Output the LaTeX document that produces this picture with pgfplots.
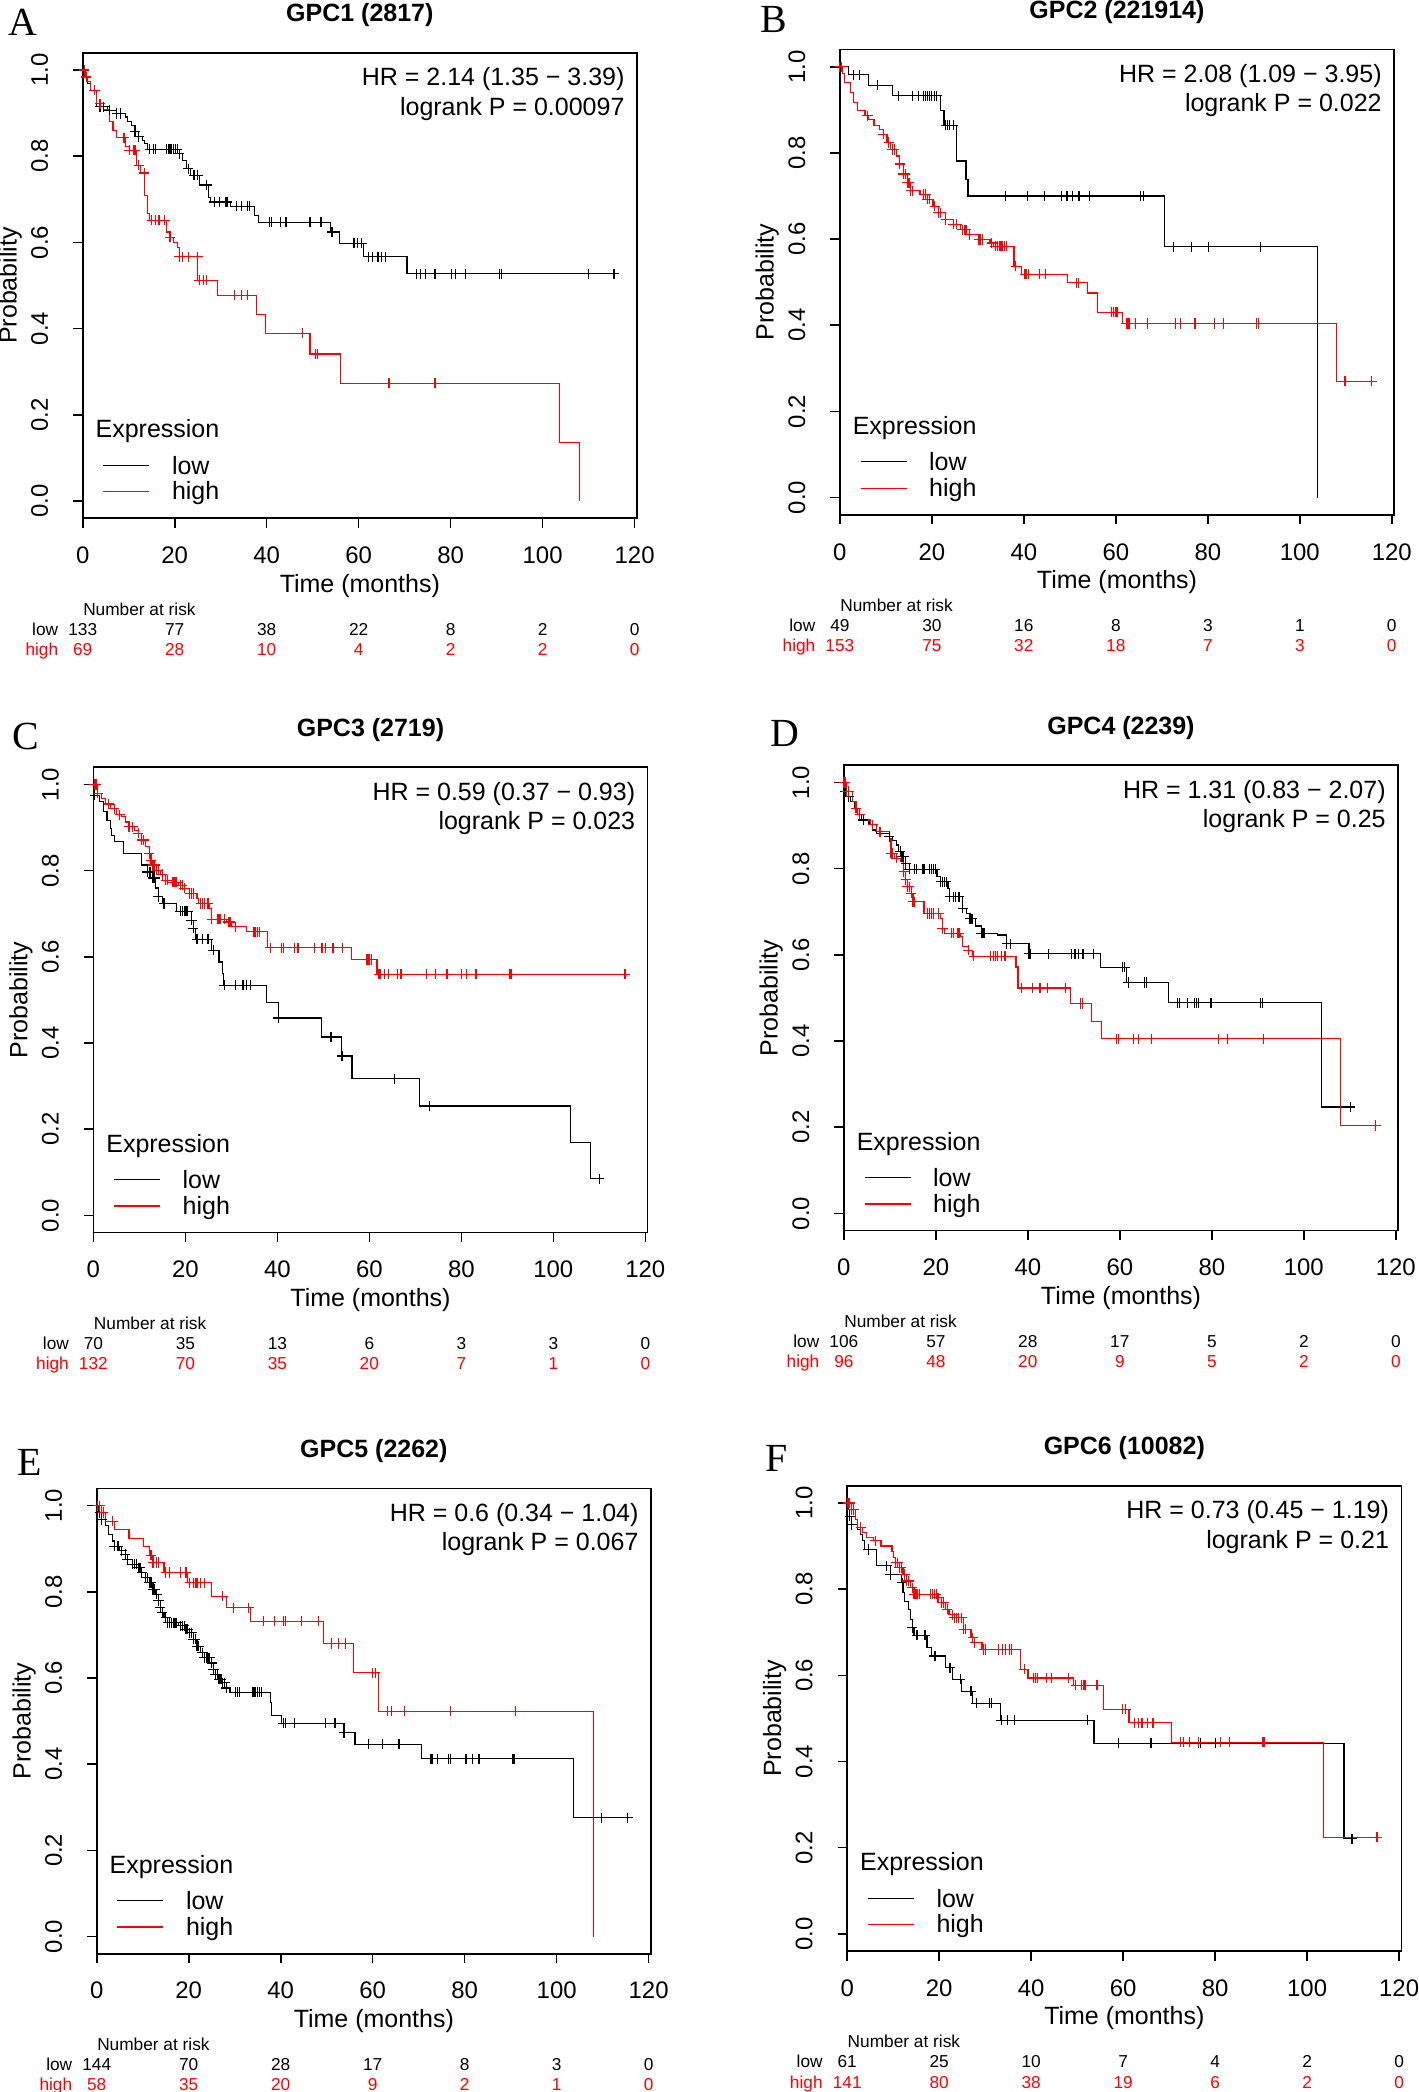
\documentclass[border=0pt]{standalone}
\usepackage{fontspec}
\setmainfont{Liberation Sans}
\newfontfamily\letterfont{Liberation Serif}
\usepackage{pgfplots}
\pgfplotsset{compat=1.18}
\newcommand{\fs}[1]{\fontsize{#1}{#1}\selectfont}
\pgfplotsset{
 km/.style={
  scale only axis, width=207.7bp, height=174.4bp, anchor=south west,
  xmin=0, xmax=120.5, ymin=-0.04, ymax=1.04, clip=false,
  xtick={0,20,40,60,80,100,120}, xticklabels={0,20,40,60,80,100,120},
  ytick={0,0.2,0.4,0.6,0.8,1}, yticklabels={0.0,0.2,0.4,0.6,0.8,1.0},
  tick pos=left, tick align=outside, major tick length=3.6bp,
  axis line style={line width=0.6bp}, tick style={line width=0.6bp, black},
  tick label style={font=\fs{9}},
  xticklabel style={anchor=center, yshift=-10.25bp},
  yticklabel style={anchor=center, xshift=-12.5bp, rotate=90},
  xlabel={Time (months)}, ylabel={Probability},
  label style={font=\fs{9.4}},
  xlabel style={at={(axis description cs:0.5,-0.1448)}, anchor=center},
  ylabel style={at={(axis description cs:-0.131,0.5)}, anchor=center},
 },
}
\tikzset{
 lowrow/.style={font=\fs{6.5}, inner sep=0pt, anchor=base, yshift=-43.8bp, text=black},
 highrow/.style={font=\fs{6.5}, inner sep=0pt, anchor=base, yshift=-51.3bp, text=red},
}
\newcommand{\kmcurve}[3]{%
 \addplot[#1, const plot, no marks, line width=0.45bp] coordinates {#2};
 \addplot[#1, only marks, mark=+, mark size=1.9bp, mark options={line width=0.45bp}] coordinates {#3};
}
\newcommand{\riskrow}[9]{%
 \node[#1, anchor=base east, xshift=-9bp] at (axis cs:0,-0.04) {#2};
 \node[#1] at (axis cs:0,-0.04) {#3};
 \node[#1] at (axis cs:20,-0.04) {#4};
 \node[#1] at (axis cs:40,-0.04) {#5};
 \node[#1] at (axis cs:60,-0.04) {#6};
 \node[#1] at (axis cs:80,-0.04) {#7};
 \node[#1] at (axis cs:100,-0.04) {#8};
 \node[#1] at (axis cs:120,-0.04) {#9};
}
\newcommand{\kmdeco}[3]{% title, HR, P
 \node[font=\bfseries\fs{9.4}, anchor=base, inner sep=0pt, yshift=11.6bp] at (rel axis cs:0.5,1) {#1};
 \node[font=\fs{9.4}, anchor=base east, inner sep=0pt] at (axis cs:117.9,0.963) {#2};
 \node[font=\fs{9.4}, anchor=base east, inner sep=0pt] at (axis cs:117.9,0.895) {#3};
 \node[font=\fs{9.4}, anchor=base west, inner sep=0pt] at (axis cs:2.7,0.147) {Expression};
 \draw[black, line width=0.45bp] (axis cs:4.5,0.083) -- (axis cs:14.5,0.083);
 \draw[red, line width=0.45bp] (axis cs:4.5,0.022) -- (axis cs:14.5,0.022);
 \node[font=\fs{9.4}, anchor=base west, inner sep=0pt] at (axis cs:19.3,0.062) {low};
 \node[font=\fs{9.4}, anchor=base west, inner sep=0pt] at (axis cs:19.3,0.003) {high};
 \node[font=\fs{6.5}, inner sep=0pt, anchor=base west, yshift=-36.3bp] at (axis cs:0,-0.04) {Number at risk};
}
\begin{document}
\begin{tikzpicture}
\useasboundingbox (0,0) rectangle (531.5bp,784bp);
\node[font=\letterfont\fs{15}] at (8.5bp,775.5bp) {A};
\node[font=\letterfont\fs{15}] at (290bp,776.5bp) {B};
\node[font=\letterfont\fs{15}] at (9.5bp,508bp) {C};
\node[font=\letterfont\fs{15}] at (294bp,509bp) {D};
\node[font=\letterfont\fs{15}] at (11bp,236bp) {E};
\node[font=\letterfont\fs{15}] at (291bp,237.5bp) {F};

% ---------------- A
\begin{axis}[km, at={(31bp,589.8bp)}]
\kmcurve{black}{(0,1) (0.5,0.985) (0.96,0.969) (1.76,0.953) (2.96,0.915) (5.36,0.907) (7.37,0.899) (9.37,0.891) (9.77,0.88) (10.57,0.872) (11.37,0.857) (12.17,0.845) (12.97,0.837) (13.37,0.829) (14.17,0.816) (20.98,0.806) (21.78,0.791) (22.58,0.771) (23.38,0.756) (25.38,0.733) (27.38,0.705) (27.78,0.694) (32.19,0.684) (37.39,0.663) (38.19,0.647) (53.8,0.624) (55.8,0.598) (61.0,0.567) (70.5,0.527) (116.4,0.527)}
{(0.3,1) (3.76,0.915) (4.56,0.915) (5.76,0.907) (7.37,0.899) (8.17,0.899) (11.37,0.857) (12.17,0.845) (14.57,0.816) (15.37,0.816) (15.77,0.816) (18.17,0.816) (18.58,0.816) (18.98,0.816) (19.38,0.816) (19.78,0.816) (20.18,0.816) (20.58,0.816) (20.98,0.806) (22.98,0.771) (24.18,0.756) (24.98,0.756) (26.98,0.733) (28.58,0.694) (29.78,0.694) (30.98,0.694) (31.39,0.694) (33.39,0.684) (34.59,0.684) (35.79,0.684) (36.19,0.684) (40.59,0.647) (40.99,0.647) (43.0,0.647) (44.2,0.647) (49.4,0.647) (51.8,0.647) (54.2,0.624) (59.0,0.598) (59.8,0.598) (60.6,0.598) (62.2,0.567) (63.0,0.567) (64.2,0.567) (65.0,0.567) (65.8,0.567) (72.6,0.527) (73.4,0.527) (74.6,0.527) (76.6,0.527) (80.2,0.527) (81.0,0.527) (83.3,0.527) (90.6,0.527) (91.0,0.527) (109.9,0.527) (115.5,0.527)}
\kmcurve{red}{(0,1) (0.56,0.984) (0.96,0.973) (1.76,0.953) (2.96,0.922) (4.56,0.908) (5.76,0.88) (6.57,0.86) (7.37,0.843) (9.37,0.822) (10.17,0.814) (11.77,0.779) (12.57,0.761) (13.37,0.709) (14.17,0.667) (14.57,0.651) (18.17,0.624) (18.98,0.612) (19.78,0.60) (20.58,0.589) (20.98,0.567) (24.98,0.512) (29.38,0.477) (37.79,0.433) (39.79,0.389) (49.40,0.341) (56.04,0.273) (103.6,0.136) (108.0,0.0)}
{(0.32,1.0) (0.8,0.984) (2.56,0.953) (3.76,0.922) (8.97,0.843) (10.17,0.814) (10.97,0.814) (11.37,0.814) (12.17,0.779) (13.37,0.761) (14.97,0.651) (15.77,0.651) (16.57,0.651) (17.77,0.651) (18.98,0.612) (20.98,0.567) (21.78,0.567) (22.98,0.567) (24.98,0.567) (25.38,0.512) (26.18,0.512) (26.98,0.512) (32.99,0.477) (34.59,0.477) (35.79,0.477) (47.8,0.389) (50.6,0.341) (51.0,0.341) (66.6,0.273) (76.6,0.273)}
\kmdeco{GPC1 (2817)}{HR = 2.14 (1.35 − 3.39)}{logrank P = 0.00097}
\riskrow{lowrow}{low}{133}{77}{38}{22}{8}{2}{0}
\riskrow{highrow}{high}{69}{28}{10}{4}{2}{2}{0}
\end{axis}

% ---------------- B
\begin{axis}[km, at={(314.75bp,591.05bp)}]
\kmcurve{black}{(0,1) (1.84,0.981) (6.24,0.957) (11.44,0.933) (21.84,0.899) (22.64,0.864) (25.44,0.781) (27.44,0.739) (27.84,0.70) (70.64,0.582) (103.84,0.0)}
{(0.3,1) (3.04,0.981) (4.24,0.981) (8.24,0.957) (12.8,0.933) (15.84,0.933) (17.04,0.933) (18.24,0.933) (18.64,0.933) (19.04,0.933) (19.44,0.933) (19.84,0.933) (20.64,0.933) (21.04,0.933) (23.04,0.864) (23.44,0.864) (23.84,0.864) (24.64,0.864) (36.0,0.70) (40.8,0.70) (44.5,0.70) (48.2,0.70) (49.4,0.70) (50.6,0.70) (52.0,0.70) (54.2,0.70) (65.4,0.70) (66.1,0.70) (72.6,0.582) (76.5,0.582) (80.2,0.582) (91.4,0.582)}
\kmcurve{red}{(0,1) (0.5,0.985) (1.04,0.963) (2.24,0.940) (3.04,0.917) (3.84,0.898) (5.44,0.886) (6.24,0.878) (7.44,0.863) (8.64,0.855) (9.44,0.843) (10.24,0.824) (11.04,0.808) (12.24,0.793) (13.04,0.774) (13.84,0.751) (14.64,0.731) (15.44,0.712) (17.44,0.704) (19.04,0.692) (20.24,0.676) (21.44,0.661) (23.04,0.645) (24.64,0.634) (26.24,0.622) (28.24,0.610) (30.24,0.599) (32.64,0.591) (33.44,0.583) (37.84,0.537) (39.44,0.518) (49.44,0.499) (53.84,0.475) (56.08,0.430) (61.44,0.404) (108.0,0.270) (116.2,0.270)}
{(0,1) (0.4,1) (6.0,0.886) (9.44,0.843) (10.64,0.824) (11.44,0.808) (11.84,0.808) (13.04,0.774) (13.84,0.751) (14.24,0.751) (14.64,0.731) (15.04,0.731) (15.44,0.712) (15.84,0.712) (18.24,0.704) (18.64,0.704) (19.04,0.692) (19.44,0.692) (20.64,0.676) (21.44,0.661) (21.84,0.661) (23.04,0.645) (24.64,0.634) (25.44,0.634) (26.64,0.622) (27.04,0.622) (27.44,0.622) (28.24,0.610) (30.24,0.599) (30.64,0.599) (31.04,0.599) (33.04,0.591) (33.84,0.583) (34.24,0.583) (34.64,0.583) (35.04,0.583) (35.44,0.583) (35.84,0.583) (36.24,0.583) (38.24,0.537) (40.24,0.518) (40.64,0.518) (41.04,0.518) (43.44,0.518) (44.64,0.518) (51.44,0.499) (51.84,0.499) (59.04,0.430) (59.44,0.430) (59.84,0.430) (60.24,0.430) (62.24,0.404) (62.64,0.404) (63.04,0.404) (64.24,0.404) (66.88,0.404) (73.04,0.404) (74.08,0.404) (77.04,0.404) (77.28,0.404) (81.44,0.404) (83.44,0.404) (90.64,0.404) (91.04,0.404) (109.84,0.270) (115.6,0.270)}
\kmdeco{GPC2 (221914)}{HR = 2.08 (1.09 − 3.95)}{logrank P = 0.022}
\riskrow{lowrow}{low}{49}{30}{16}{8}{3}{1}{0}
\riskrow{highrow}{high}{153}{75}{32}{18}{7}{3}{0}
\end{axis}

% ---------------- C
\begin{axis}[km, at={(35bp,322.05bp)}]
\kmcurve{black}{(0,1) (0.32,0.975) (1.36,0.960) (2.16,0.937) (2.96,0.917) (3.75,0.898) (3.99,0.882) (4.55,0.868) (6.55,0.840) (10.54,0.813) (11.74,0.797) (12.94,0.783) (13.58,0.760) (14.14,0.740) (14.94,0.724) (18.13,0.706) (21.33,0.685) (21.73,0.666) (22.12,0.641) (25.72,0.615) (27.32,0.588) (28.12,0.561) (28.27,0.534) (37.70,0.495) (40.26,0.458) (49.52,0.414) (53.91,0.370) (56.23,0.317) (70.85,0.254) (103.8,0.169) (108.1,0.085) (110.8,0.085)}
{(0.32,0.975) (11.74,0.797) (12.3,0.797) (12.94,0.783) (13.34,0.783) (14.14,0.740) (15.34,0.724) (18.93,0.706) (19.33,0.706) (19.73,0.706) (20.13,0.706) (20.53,0.706) (21.33,0.685) (21.73,0.666) (22.52,0.641) (23.72,0.641) (24.92,0.641) (26.12,0.615) (28.51,0.534) (30.91,0.534) (32.51,0.534) (33.31,0.534) (34.11,0.534) (40.26,0.458) (51.68,0.414) (54.07,0.370) (65.50,0.317) (73.0,0.254) (110.0,0.085)}
\kmcurve{red}{(0,1) (0.96,0.98) (1.76,0.967) (2.56,0.955) (3.75,0.944) (4.95,0.930) (6.15,0.925) (6.95,0.913) (7.75,0.902) (8.95,0.894) (9.74,0.887) (10.54,0.871) (11.34,0.856) (12.14,0.840) (12.54,0.824) (12.94,0.813) (13.74,0.801) (14.54,0.791) (15.73,0.778) (17.33,0.773) (18.53,0.766) (19.73,0.759) (20.93,0.747) (22.52,0.735) (22.92,0.724) (25.32,0.712) (25.72,0.687) (28.91,0.681) (30.11,0.670) (33.31,0.658) (37.86,0.621) (56.07,0.594) (61.66,0.560) (116.4,0.560)}
{(0.16,1) (0.56,1) (0.96,0.98) (3.35,0.955) (4.55,0.944) (5.75,0.930) (7.75,0.902) (8.55,0.902) (9.74,0.887) (10.54,0.871) (10.94,0.871) (12.14,0.840) (12.54,0.824) (12.94,0.813) (13.34,0.813) (13.74,0.801) (14.14,0.801) (14.94,0.791) (15.73,0.778) (16.13,0.778) (17.33,0.773) (17.73,0.773) (18.13,0.773) (18.93,0.766) (19.33,0.766) (19.73,0.759) (20.93,0.747) (21.33,0.747) (21.73,0.747) (23.32,0.724) (23.72,0.724) (24.12,0.724) (24.92,0.724) (25.72,0.687) (26.92,0.687) (27.32,0.687) (27.72,0.687) (28.51,0.687) (29.31,0.681) (29.71,0.681) (30.91,0.670) (34.9,0.658) (35.3,0.658) (35.7,0.658) (36.1,0.658) (38.5,0.621) (40.9,0.621) (41.3,0.621) (43.7,0.621) (44.5,0.621) (48.1,0.621) (49.7,0.621) (50.5,0.621) (52.1,0.621) (54.1,0.621) (59.3,0.594) (59.7,0.594) (60.1,0.594) (60.5,0.594) (62.1,0.560) (62.5,0.560) (63.3,0.560) (64.1,0.560) (66.1,0.560) (66.9,0.560) (72.4,0.560) (74.4,0.560) (76.7,0.560) (77.0,0.560) (80.0,0.560) (81.2,0.560) (83.2,0.560) (90.4,0.560) (90.8,0.560) (115.6,0.560)}
\kmdeco{GPC3 (2719)}{HR = 0.59 (0.37 − 0.93)}{logrank P = 0.023}
\riskrow{lowrow}{low}{70}{35}{13}{6}{3}{3}{0}
\riskrow{highrow}{high}{132}{70}{35}{20}{7}{1}{0}
\end{axis}

% ---------------- D
\begin{axis}[km, at={(316.25bp,322.8bp)}]
\kmcurve{black}{(0,1) (0.24,0.98) (0.64,0.967) (1.44,0.956) (2.24,0.940) (3.04,0.925) (3.84,0.913) (5.44,0.902) (6.24,0.890) (7.04,0.882) (9.84,0.874) (10.64,0.866) (11.44,0.855) (11.84,0.840) (12.64,0.828) (13.44,0.812) (14.24,0.799) (20.24,0.781) (21.04,0.770) (22.64,0.754) (23.04,0.735) (25.84,0.708) (26.64,0.696) (27.44,0.684) (28.64,0.667) (29.84,0.650) (33.44,0.646) (35.44,0.626) (40.24,0.603) (55.84,0.571) (61.44,0.536) (70.64,0.489) (103.84,0.247) (110.64,0.247)}
{(0.24,0.98) (1.04,0.967) (3.44,0.925) (4.24,0.913) (9.84,0.874) (12.24,0.840) (12.64,0.828) (13.04,0.828) (13.44,0.812) (14.24,0.799) (15.44,0.799) (15.84,0.799) (17.04,0.799) (17.44,0.799) (18.64,0.799) (19.04,0.799) (19.44,0.799) (19.84,0.799) (21.04,0.770) (21.44,0.770) (21.84,0.770) (22.24,0.770) (23.04,0.735) (23.84,0.735) (24.24,0.735) (25.04,0.735) (25.84,0.708) (27.44,0.684) (27.84,0.684) (29.84,0.650) (30.24,0.650) (30.64,0.650) (35.44,0.626) (36.24,0.626) (40.24,0.603) (40.64,0.603) (44.48,0.603) (49.44,0.603) (50.24,0.603) (51.04,0.603) (52.0,0.603) (54.24,0.603) (60.64,0.571) (61.04,0.571) (61.84,0.536) (65.44,0.536) (65.84,0.536) (72.48,0.489) (73.04,0.489) (74.64,0.489) (76.24,0.489) (76.64,0.489) (77.04,0.489) (79.84,0.489) (90.64,0.489) (91.04,0.489) (110.08,0.247)}
\kmcurve{red}{(0,1) (0.64,0.979) (1.84,0.956) (2.64,0.940) (3.04,0.926) (4.24,0.913) (5.84,0.902) (7.04,0.886) (9.84,0.870) (10.24,0.836) (11.04,0.824) (12.24,0.816) (13.04,0.793) (13.44,0.774) (13.84,0.758) (14.64,0.743) (15.04,0.723) (17.44,0.696) (21.04,0.684) (21.44,0.661) (21.84,0.650) (25.44,0.642) (25.84,0.619) (27.04,0.611) (28.0,0.597) (37.44,0.572) (37.84,0.523) (49.28,0.487) (53.84,0.446) (56.08,0.405) (108.0,0.204) (115.84,0.204)}
{(0,1) (0.24,1) (0.64,0.979) (1.04,0.979) (2.64,0.940) (3.44,0.926) (6.24,0.902) (7.84,0.886) (10.24,0.836) (10.64,0.836) (11.44,0.824) (13.04,0.793) (13.44,0.774) (13.84,0.758) (14.24,0.758) (14.64,0.743) (15.04,0.723) (15.44,0.723) (18.24,0.696) (18.64,0.696) (19.04,0.696) (19.44,0.696) (20.64,0.696) (21.44,0.661) (23.44,0.650) (23.84,0.650) (24.64,0.650) (25.04,0.650) (27.04,0.611) (28.24,0.597) (31.84,0.597) (32.48,0.597) (33.04,0.597) (33.44,0.597) (34.24,0.597) (35.04,0.597) (38.64,0.523) (41.04,0.523) (42.64,0.523) (44.24,0.523) (48.24,0.523) (51.44,0.487) (51.84,0.487) (59.2,0.405) (59.68,0.405) (63.04,0.405) (64.0,0.405) (66.88,0.405) (81.44,0.405) (83.44,0.405) (91.2,0.405) (115.6,0.204)}
\kmdeco{GPC4 (2239)}{HR = 1.31 (0.83 − 2.07)}{logrank P = 0.25}
\riskrow{lowrow}{low}{106}{57}{28}{17}{5}{2}{0}
\riskrow{highrow}{high}{96}{48}{20}{9}{5}{2}{0}
\end{axis}

% ---------------- E
\begin{axis}[km, at={(36.25bp,51.8bp)}]
\kmcurve{black}{(0,1) (0.40,0.984) (1.04,0.968) (1.84,0.953) (2.64,0.933) (3.43,0.918) (3.83,0.906) (5.03,0.895) (6.23,0.887) (6.63,0.875) (7.83,0.864) (9.03,0.856) (9.82,0.844) (10.62,0.833) (11.42,0.821) (12.22,0.806) (12.86,0.794) (13.42,0.779) (13.82,0.763) (14.22,0.752) (14.62,0.740) (15.42,0.728) (17.81,0.721) (19.41,0.713) (20.21,0.705) (21.01,0.690) (21.81,0.674) (22.60,0.659) (23.40,0.647) (25.0,0.635) (25.40,0.620) (25.80,0.608) (26.60,0.597) (27.40,0.589) (28.19,0.577) (28.99,0.567) (37.78,0.543) (38.02,0.513) (40.18,0.495) (53.75,0.473) (56.15,0.446) (70.53,0.413) (103.67,0.276) (116.45,0.276)}
{(0.24,1) (0.64,0.984) (1.04,0.968) (3.83,0.906) (4.63,0.906) (5.43,0.895) (6.23,0.887) (6.63,0.875) (7.83,0.864) (8.23,0.864) (8.63,0.864) (9.03,0.856) (9.42,0.856) (9.82,0.844) (10.62,0.833) (11.02,0.833) (11.42,0.821) (11.82,0.821) (12.22,0.806) (12.62,0.806) (13.02,0.794) (13.42,0.779) (13.82,0.763) (14.22,0.752) (15.02,0.740) (15.42,0.728) (15.81,0.728) (16.21,0.728) (16.61,0.728) (17.01,0.728) (17.41,0.728) (18.21,0.721) (18.61,0.721) (19.01,0.721) (19.41,0.713) (19.81,0.713) (20.21,0.705) (20.61,0.705) (21.01,0.690) (21.41,0.690) (21.81,0.674) (22.2,0.674) (23.0,0.659) (23.4,0.647) (23.8,0.647) (24.2,0.647) (24.6,0.647) (25.0,0.635) (25.4,0.620) (25.8,0.608) (26.2,0.608) (26.6,0.597) (27.0,0.597) (27.4,0.589) (27.8,0.589) (28.19,0.577) (30.19,0.567) (30.59,0.567) (30.99,0.567) (33.79,0.567) (34.19,0.567) (34.58,0.567) (34.98,0.567) (35.38,0.567) (35.78,0.567) (40.58,0.495) (40.97,0.495) (42.97,0.495) (49.76,0.495) (51.76,0.495) (52.0,0.495) (53.75,0.473) (59.1,0.446) (62.1,0.446) (65.6,0.446) (65.9,0.446) (72.5,0.413) (72.9,0.413) (74.1,0.413) (76.5,0.413) (76.9,0.413) (80.3,0.413) (81.7,0.413) (83.1,0.413) (90.5,0.413) (90.9,0.413) (109.7,0.276) (115.4,0.276)}
\kmcurve{red}{(0,1) (1.04,0.984) (1.84,0.964) (3.83,0.945) (7.03,0.923) (10.22,0.905) (11.42,0.885) (12.22,0.868) (14.62,0.845) (19.81,0.821) (25.0,0.790) (28.19,0.763) (33.39,0.732) (49.36,0.680) (55.75,0.612) (61.34,0.523) (108.07,0.0)}
{(0.24,1) (0.64,1) (1.44,0.984) (3.43,0.964) (11.82,0.885) (12.22,0.868) (13.02,0.868) (13.42,0.868) (15.02,0.845) (15.81,0.845) (18.21,0.845) (19.41,0.845) (20.21,0.821) (21.01,0.821) (21.41,0.821) (21.81,0.821) (22.6,0.821) (23.4,0.821) (27.4,0.790) (29.79,0.763) (32.99,0.763) (36.18,0.732) (38.58,0.732) (40.58,0.732) (40.97,0.732) (44.57,0.732) (48.16,0.732) (50.96,0.680) (52.56,0.680) (54.15,0.680) (59.98,0.612) (60.54,0.612) (63.18,0.523) (64.14,0.523) (66.93,0.523) (76.92,0.523) (91.13,0.523)}
\kmdeco{GPC5 (2262)}{HR = 0.6 (0.34 − 1.04)}{logrank P = 0.067}
\riskrow{lowrow}{low}{144}{70}{28}{17}{8}{3}{0}
\riskrow{highrow}{high}{58}{35}{20}{9}{2}{1}{0}
\end{axis}

% ---------------- F
\begin{axis}[km, at={(317.5bp,52.8bp)}]
\kmcurve{black}{(0,1) (0.16,0.985) (0.56,0.969) (0.96,0.950) (2.16,0.939) (2.96,0.927) (3.35,0.912) (3.75,0.892) (6.39,0.854) (9.35,0.834) (11.74,0.815) (12.14,0.792) (12.54,0.772) (13.34,0.753) (13.74,0.730) (14.14,0.711) (14.54,0.693) (17.33,0.664) (18.37,0.645) (21.33,0.618) (22.92,0.591) (24.92,0.563) (27.32,0.535) (33.31,0.496) (53.67,0.442) (107.99,0.221) (110.78,0.221)}
{(0.56,0.969) (0.96,0.950) (4.55,0.892) (8.55,0.854) (9.35,0.834) (11.98,0.815) (14.14,0.711) (15.18,0.693) (16.93,0.693) (18.93,0.645) (19.17,0.645) (22.36,0.618) (24.6,0.591) (26.92,0.563) (28.12,0.535) (30.91,0.535) (31.31,0.535) (33.55,0.496) (34.9,0.496) (36.34,0.496) (52.32,0.496) (59.03,0.442) (66.05,0.442) (76.44,0.442) (76.84,0.442) (80.03,0.442) (109.74,0.221)}
\kmcurve{red}{(0,1) (0.96,0.985) (1.76,0.962) (2.16,0.943) (3.35,0.931) (4.15,0.919) (5.75,0.912) (7.35,0.900) (9.74,0.888) (10.14,0.873) (10.54,0.861) (11.34,0.850) (12.14,0.834) (12.94,0.819) (13.74,0.803) (14.54,0.788) (19.73,0.780) (20.53,0.769) (21.33,0.753) (22.12,0.741) (23.32,0.734) (25.32,0.707) (26.92,0.687) (27.72,0.676) (29.31,0.660) (37.70,0.614) (39.30,0.594) (49.28,0.577) (55.67,0.521) (61.26,0.490) (70.45,0.445) (103.59,0.224) (115.97,0.224)}
{(0.16,1) (0.56,1) (0.96,0.985) (1.36,0.985) (2.96,0.943) (6.15,0.912) (10.54,0.861) (10.94,0.861) (11.34,0.850) (11.74,0.850) (12.54,0.834) (12.94,0.819) (13.34,0.819) (14.14,0.803) (14.54,0.788) (14.94,0.788) (15.34,0.788) (15.73,0.788) (18.13,0.788) (18.53,0.788) (18.93,0.788) (19.33,0.788) (19.73,0.780) (20.53,0.769) (20.93,0.769) (21.73,0.753) (22.92,0.741) (23.32,0.734) (23.72,0.734) (24.12,0.734) (24.92,0.734) (25.32,0.707) (25.72,0.707) (27.32,0.687) (27.72,0.676) (29.71,0.660) (30.11,0.660) (32.91,0.660) (33.71,0.660) (34.5,0.660) (35.3,0.660) (35.7,0.660) (38.5,0.614) (40.5,0.594) (40.9,0.594) (41.3,0.594) (43.3,0.594) (44.5,0.594) (48.1,0.594) (49.7,0.577) (50.9,0.577) (51.3,0.577) (51.7,0.577) (54.3,0.577) (59.9,0.521) (60.5,0.521) (62.5,0.490) (63.3,0.490) (64.1,0.490) (65.3,0.490) (66.5,0.490) (72.4,0.445) (73.2,0.445) (74.4,0.445) (76.4,0.445) (81.2,0.445) (83.2,0.445) (90.4,0.445) (90.8,0.445) (115.2,0.224)}
\kmdeco{GPC6 (10082)}{HR = 0.73 (0.45 − 1.19)}{logrank P = 0.21}
\riskrow{lowrow}{low}{61}{25}{10}{7}{4}{2}{0}
\riskrow{highrow}{high}{141}{80}{38}{19}{6}{2}{0}
\end{axis}
\end{tikzpicture}
\end{document}
